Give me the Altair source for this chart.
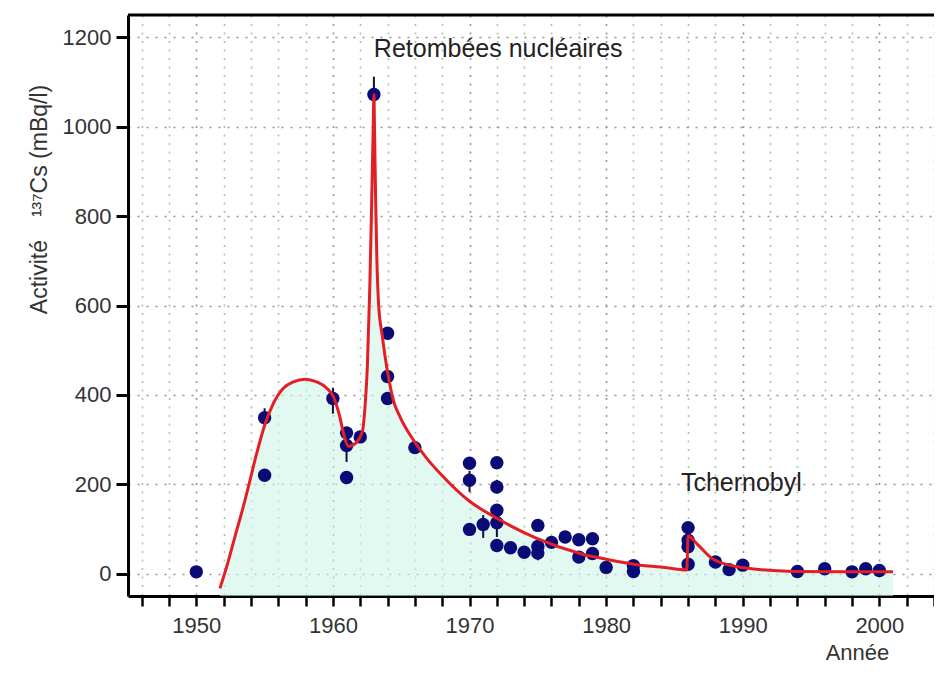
import altair as alt
import pandas as pd

# ---- measured data points (year, activity mBq/l) ----
pt_year = [1950, 1955, 1955, 1960, 1961, 1961, 1961, 1962, 1963, 1964, 1964, 1964, 1966,
           1970, 1970, 1970, 1971, 1972, 1972, 1972, 1972, 1972, 1973, 1974,
           1975, 1975, 1975, 1976, 1977, 1978, 1978, 1979, 1979, 1980, 1982, 1982,
           1986, 1986, 1986, 1986, 1988, 1989, 1990, 1994, 1996, 1998, 1999, 2000]
pt_val = [4, 349, 220, 392, 315, 287, 215, 306, 1072, 538, 441, 392, 282,
          247, 209, 99, 110, 248, 194, 142, 114, 63, 58, 48,
          108, 61, 46, 70, 82, 76, 37, 78, 45, 14, 18, 5,
          103, 75, 60, 21, 26, 9, 19, 5, 11, 4, 11, 7]

# ---- error bars ----
eb_year = [1955, 1960, 1961, 1963, 1970, 1971, 1972, 1972, 1975]
eb_lo = [330, 358, 250, 1030, 183, 80, 180, 82, 30]
eb_hi = [370, 416, 320, 1112, 230, 131, 210, 131, 68]

# ---- fitted model curve ----
curve_year = [1951.73, 1952.22, 1952.83, 1953.44, 1953.81, 1954.42, 1954.98, 1955.64,
              1956.37, 1957.1, 1957.96, 1958.81, 1959.55, 1960.03, 1960.47, 1960.81,
              1961.13, 1961.49, 1961.86, 1962.18, 1962.35, 1962.52, 1962.7, 1962.85,
              1962.95, 1963.0, 1963.05, 1963.12, 1963.22, 1963.35, 1963.6, 1963.8,
              1964.06, 1964.42, 1964.91, 1965.89, 1966.87, 1967.85, 1970.0, 1972.0,
              1974.92, 1978.1, 1980.04, 1982.5, 1984.0, 1985.9, 1986.0, 1986.7,
              1987.9, 1990.1, 1993.75, 1997.4, 2001.0]
curve_val = [-33, 15, 83, 150, 194, 269, 330, 381,
             415, 429, 435, 429, 415, 396, 355, 310,
             285, 288, 299, 321, 373, 463, 640, 850,
             1000, 1072, 985, 850, 700, 600, 535, 490,
             441, 388, 351, 299, 258, 224, 162, 124,
             79, 45, 32, 19, 15, 8, 84, 65,
             31, 13, 5, 4, 4]

# ---- annotations ----
ann_text = ["Retombées nucléaires", "Tchernobyl"]
ann_year = [1972.1, 1989.9]
ann_val = [1155, 185]

# ---- axes ----
x_ticks = list(range(1946, 2005, 2))
y_ticks = [0, 200, 400, 600, 800, 1000, 1200]
x_domain = [1945, 2004]
y_domain = [-50, 1250]
y_floor = y_domain[0]

W, H = 806, 581
FONT = "Liberation Sans"

pts = pd.DataFrame({"year": pt_year, "val": pt_val})
eb = pd.DataFrame({"year": eb_year, "lo": eb_lo, "hi": eb_hi})
curve = pd.DataFrame({"year": curve_year, "val": curve_val, "floor": [y_floor] * len(curve_year)})
ann = pd.DataFrame({"text": ann_text, "year": ann_year, "val": ann_val})

xs = alt.Scale(domain=x_domain, nice=False, zero=False)
ys = alt.Scale(domain=y_domain, nice=False, zero=False)

x_axis = alt.Axis(
    values=x_ticks, format="d",
    labelExpr="datum.value % 10 === 0 ? datum.label : ''",
    labelFontSize=22, labelColor="#333333", labelPadding=9, labelFont=FONT,
    tickSize=10, tickWidth=2.5, tickColor="black",
    domainWidth=3, domainColor="black",
    grid=True,
    gridColor={"condition": {"test": "datum.value % 10 === 0", "value": "#a48aa4"}, "value": "#93d493"},
    gridDash=[2, 6.5], gridWidth=1.6,
    title="Année", titleFontSize=22, titleFont=FONT, titleFontWeight="normal",
    titleColor="#333333", titleX=729, titleY=63, titleAlign="center", titleBaseline="alphabetic",
)
y_axis = alt.Axis(
    values=y_ticks, format="d",
    labelFontSize=22, labelColor="#333333", labelPadding=5, labelFont=FONT,
    tickSize=12, tickWidth=3, tickColor="black",
    domainWidth=3, domainColor="black",
    grid=True, gridColor="#a48aa4", gridDash=[2, 7], gridWidth=1.6,
    title="Activité\u2003¹³⁷Cs (mBq/l)", titleFontSize=23, titleFont=FONT,
    titleFontWeight="normal", titleColor="#333333",
    titleAngle=270, titleX=-89, titleY=184, titleAlign="center", titleBaseline="middle",
)

X = alt.X("year:Q", scale=xs, axis=x_axis)
Y = alt.Y("val:Q", scale=ys, axis=y_axis)

area = alt.Chart(curve).mark_area(color="#cff5ea", opacity=0.6, interpolate="monotone", clip=True).encode(
    x=X, y=Y, y2=alt.Y2("floor:Q")
)
bars = alt.Chart(eb).mark_rule(color="#101030", strokeWidth=2).encode(
    x=alt.X("year:Q", scale=xs, axis=x_axis),
    y=alt.Y("lo:Q", scale=ys, axis=y_axis),
    y2="hi:Q",
)
dots = alt.Chart(pts).mark_circle(color="#0b0b78", size=180, opacity=1).encode(x=X, y=Y)
line = alt.Chart(curve).mark_line(color="#e31e24", strokeWidth=3, interpolate="monotone", clip=True).encode(
    x=X, y=Y
)
texts = alt.Chart(ann).mark_text(
    font=FONT, fontSize=25, color="#222222", align="center", baseline="alphabetic"
).encode(x=X, y=Y, text="text:N")
top = alt.Chart(pd.DataFrame({"a": [0]})).mark_rule(color="black", strokeWidth=3).encode(
    x=alt.value(0), x2=alt.value(W), y=alt.value(0)
)

chart = alt.layer(area, bars, dots, line, texts, top).properties(
    width=W, height=H,
    autosize=alt.AutoSizeParams(type="none"),
    padding={"left": 120, "top": 7, "right": 0, "bottom": 69},
).configure_view(strokeWidth=0).configure(background="white")

chart.save("out.html", embed_options={"renderer": "svg", "actions": False})
